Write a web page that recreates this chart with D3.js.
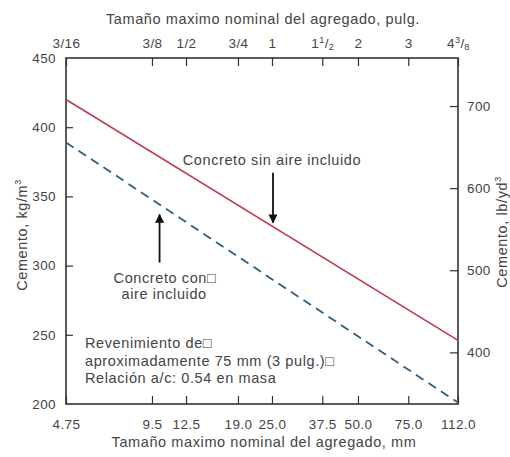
<!DOCTYPE html>
<html>
<head>
<meta charset="utf-8">
<script src="https://cdn.jsdelivr.net/npm/d3@7"></script>
<style>
  body { margin: 0; background: #fff; }
  svg { display: block; font-family: "Liberation Sans", Arial, sans-serif; }
  .axis text { fill: #444; font-size: 13.5px; letter-spacing: 0.4px; }
  .axis line { stroke: #333; stroke-width: 1.2; }
  .note { fill: #444; font-size: 14.5px; letter-spacing: 0.6px; }
</style>
</head>
<body>
<div id="chart"></div>
<script>
// values
const sizeMm = [4.75, 112.0];              // ends of both lines
const cementSinAire = [420, 246];          // kg/m3, no air entrained
const cementConAire = [389, 201];          // kg/m3, air entrained

const mmTicks = [4.75, 9.5, 12.5, 19.0, 25.0, 37.5, 50.0, 75.0, 112.0];
const mmLabels = ["4.75", "9.5", "12.5", "19.0", "25.0", "37.5", "50.0", "75.0", "112.0"];
// inch labels: [whole, sup, sub]
const inLabels = [["3/16"], ["3/8"], ["1/2"], ["3/4"], ["1"], ["1", "1", "2"], ["2"], ["3"], ["4", "3", "8"]];
const kgTicks = [200, 250, 300, 350, 400, 450];
const lbTicks = [400, 500, 600, 700];
const kgToLb = 1.6856;

const width = 510;
const height = 457;
const margin = { top: 58, bottom: 53, left: 66, right: 52 };

const x = d3.scaleLog()
    .domain([4.75, 112])
    .range([margin.left, width - margin.right]);

const y = d3.scaleLinear()
    .domain([200, 450])
    .range([height - margin.bottom, margin.top]);

const yLb = d3.scaleLinear()
    .domain([200 * kgToLb, 450 * kgToLb])
    .range([height - margin.bottom, margin.top]);

const svg = d3.select("#chart")
    .append("svg")
    .attr("width", width)
    .attr("height", height);

// arrowhead
svg.append("defs").append("marker")
    .attr("id", "head")
    .attr("viewBox", "0 0 10 10")
    .attr("refX", 9).attr("refY", 5)
    .attr("markerWidth", 11).attr("markerHeight", 9)
    .attr("markerUnits", "userSpaceOnUse")
    .attr("orient", "auto")
    .append("path")
    .attr("d", "M0,0 L10,5 L0,10 Z")
    .attr("fill", "#111");

// bottom axis (mm)
svg.append("g")
    .attr("class", "axis")
    .attr("transform", `translate(0,${height - margin.bottom})`)
    .call(d3.axisBottom(x).tickValues(mmTicks)
        .tickFormat((d, i) => mmLabels[i])
        .tickSizeInner(-8).tickSizeOuter(0).tickPadding(15))
    .call(g => g.select(".domain").remove());

// top axis (inches)
const topAxis = svg.append("g")
    .attr("class", "axis")
    .attr("transform", `translate(0,${margin.top})`)
    .call(d3.axisTop(x).tickValues(mmTicks)
        .tickFormat("")
        .tickSizeInner(-8).tickSizeOuter(0).tickPadding(10))
    .call(g => g.select(".domain").remove());

topAxis.selectAll(".tick text").each(function(d, i) {
    const t = d3.select(this);
    const lab = inLabels[i];
    t.append("tspan").text(lab[0]);
    if (lab.length > 1) {
        t.append("tspan").attr("font-size", "9px").attr("dy", -5).text(lab[1]);
        t.append("tspan").attr("dy", 5).text("/");
        t.append("tspan").attr("font-size", "9px").attr("dy", 2).text(lab[2]);
    }
});

// left axis (kg/m3)
svg.append("g")
    .attr("class", "axis")
    .attr("transform", `translate(${margin.left},0)`)
    .call(d3.axisLeft(y).tickValues(kgTicks)
        .tickSizeInner(-7).tickSizeOuter(0).tickPadding(10))
    .call(g => g.select(".domain").remove())
    .call(g => g.selectAll(".tick line").filter(d => d === 200 || d === 450).remove());

// right axis (lb/yd3)
svg.append("g")
    .attr("class", "axis")
    .attr("transform", `translate(${width - margin.right},0)`)
    .call(d3.axisRight(yLb).tickValues(lbTicks)
        .tickSizeInner(-8).tickSizeOuter(0).tickPadding(9))
    .call(g => g.select(".domain").remove());

// frame
svg.append("rect")
    .attr("x", margin.left)
    .attr("y", margin.top)
    .attr("width", width - margin.left - margin.right)
    .attr("height", height - margin.top - margin.bottom)
    .attr("fill", "none")
    .attr("stroke", "#333")
    .attr("stroke-width", 1.6);

// axis titles
svg.append("text")
    .attr("class", "note")
    .attr("x", (margin.left + width - margin.right) / 2 + 1)
    .attr("y", 24)
    .attr("text-anchor", "middle")
    .text("Tamaño maximo nominal del agregado, pulg.");

svg.append("text")
    .attr("class", "note")
    .attr("x", (margin.left + width - margin.right) / 2 + 2)
    .attr("y", 447)
    .attr("text-anchor", "middle")
    .text("Tamaño maximo nominal del agregado, mm");

svg.append("text")
    .attr("class", "note")
    .attr("transform", "translate(27,235) rotate(-90)")
    .attr("text-anchor", "middle")
    .html("Cemento, kg/m<tspan font-size='9px' dy='-6'>3</tspan>");

svg.append("text")
    .attr("class", "note")
    .attr("transform", "translate(507,232) rotate(-90)")
    .attr("text-anchor", "middle")
    .html("Cemento, lb/yd<tspan font-size='9px' dy='-6'>3</tspan>");

// lines
const line = d3.line()
    .x(d => x(d[0]))
    .y(d => y(d[1]));

svg.append("path")
    .datum(sizeMm.map((s, i) => [s, cementSinAire[i]]))
    .attr("d", line)
    .attr("fill", "none")
    .attr("stroke", "#c23a4b")
    .attr("stroke-width", 1.6);

svg.append("path")
    .datum(sizeMm.map((s, i) => [s, cementConAire[i]]))
    .attr("d", line)
    .attr("fill", "none")
    .attr("stroke", "#2f5f7c")
    .attr("stroke-width", 1.8)
    .attr("stroke-dasharray", "9,6");

// value of a line at a size (straight in log x)
function along(values, mm) {
    const t = (Math.log(mm) - Math.log(sizeMm[0])) / (Math.log(sizeMm[1]) - Math.log(sizeMm[0]));
    return values[0] + t * (values[1] - values[0]);
}

// annotation: no air
const sinX = 25.2;
const sinTip = y(along(cementSinAire, sinX)) - 4;
svg.append("line")
    .attr("x1", x(sinX)).attr("x2", x(sinX))
    .attr("y1", sinTip - 50).attr("y2", sinTip)
    .attr("stroke", "#111").attr("stroke-width", 1.8)
    .attr("marker-end", "url(#head)");
svg.append("text")
    .attr("class", "note")
    .attr("x", x(sinX) - 1)
    .attr("y", sinTip - 58)
    .attr("text-anchor", "middle")
    .text("Concreto sin aire incluido");

// annotation: with air
const conX = 10.1;
const conTip = y(along(cementConAire, conX)) + 10;
svg.append("line")
    .attr("x1", x(conX)).attr("x2", x(conX))
    .attr("y1", conTip + 48).attr("y2", conTip)
    .attr("stroke", "#111").attr("stroke-width", 1.8)
    .attr("marker-end", "url(#head)");
svg.append("text")
    .attr("class", "note")
    .attr("y", conTip + 68)
    .selectAll("tspan")
    .data(["Concreto con□", "aire incluido"])
    .join("tspan")
    .attr("x", (d, i) => x(conX) - 46 + i * 8)
    .attr("dy", (d, i) => i ? 16 : 0)
    .text(d => d);

// conditions note
svg.append("text")
    .attr("class", "note")
    .attr("y", 348)
    .selectAll("tspan")
    .data(["Revenimiento de□", "aproximadamente 75 mm (3 pulg.)□", "Relación a/c: 0.54 en masa"])
    .join("tspan")
    .attr("x", 85)
    .attr("dy", (d, i) => i ? 17.5 : 0)
    .text(d => d);
</script>
</body>
</html>
